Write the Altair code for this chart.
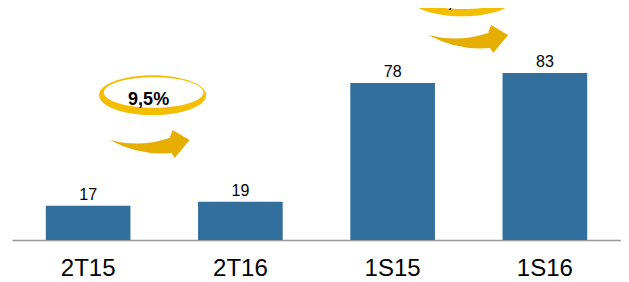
import altair as alt
import pandas as pd

categories = ["2T15", "2T16", "1S15", "1S16"]
values = [17, 19, 78, 83]
growth_labels = ["9,5%", "6,4%"]
growth_from = ["2T15", "1S15"]
arrow_level = [47.7, 99.9]
ring_level = [72.0, 121.0]

bars_df = pd.DataFrame({"cat": categories, "val": values})

BLUE = "#336F9C"

x_enc = alt.X("cat:N", sort=categories,
              scale=alt.Scale(domain=categories, paddingInner=0.444, paddingOuter=0.222),
              axis=alt.Axis(title=None, labelAngle=0, ticks=False, labelFontSize=24,
                            labelFont="Liberation Sans", labelColor="#000000",
                            labelPadding=16, domainColor="#999999", domainWidth=1.5,
                            grid=False))
y_scale = alt.Scale(domain=[0, 115.3], nice=False, zero=True)
y_enc = alt.Y("val:Q", scale=y_scale, axis=None)

base = alt.Chart(bars_df)
bars = base.mark_bar(color=BLUE).encode(x=x_enc, y=y_enc)
labels = base.mark_text(font="Liberation Sans", fontSize=16, color="#000000",
                        baseline="alphabetic", dy=-6).encode(
    x=alt.X("cat:N", sort=categories), y=y_enc, text=alt.Text("val:Q"))

ARROW = ("M -1 -0.1 Q -0.25 0.1 0.5 -0.15 L 0.575 -0.35 L 1 -0.1 L 0.625 0.35 "
         "L 0.55 0.225 Q -0.25 0.3 -1 -0.1 Z")
RING = ("M -1 0 C -1 -0.2043 -0.5523 -0.37 0 -0.37 C 0.5523 -0.37 1 -0.2043 1 0 "
        "C 1 0.2043 0.5523 0.37 0 0.37 C -0.5523 0.37 -1 0.2043 -1 0 Z "
        "M -0.91 -0.05 C -0.91 0.11 -0.4936 0.235 0.02 0.235 "
        "C 0.5336 0.235 0.95 0.11 0.95 -0.05 "
        "C 0.95 -0.2102 0.5336 -0.335 0.02 -0.335 "
        "C -0.4936 -0.335 -0.91 -0.2102 -0.91 -0.05 Z")

layers = [bars, labels]
arrow_dx = [61.5, 75.5]
ring_dx = [64.5, 69.5]
for i in range(2):
    adf = pd.DataFrame({"cat": [growth_from[i]], "lvl": [arrow_level[i]]})
    rdf = pd.DataFrame({"cat": [growth_from[i]], "lvl": [ring_level[i]], "t": [growth_labels[i]]})
    arrow = alt.Chart(adf).mark_point(shape=ARROW, size=6400, filled=True, fill="#E6AE00",
                                      opacity=1, strokeWidth=0, clip=False,
                                      xOffset=arrow_dx[i]).encode(
        x=alt.X("cat:N", sort=categories),
        y=alt.Y("lvl:Q", scale=y_scale))
    ring = alt.Chart(rdf).mark_point(shape=RING, size=11449, filled=True, fill="#F4BE00",
                                     opacity=1, strokeWidth=0, clip=False,
                                     xOffset=ring_dx[i]).encode(
        x=alt.X("cat:N", sort=categories),
        y=alt.Y("lvl:Q", scale=y_scale))
    txt = alt.Chart(rdf).mark_text(font="Liberation Sans", fontSize=18, fontWeight="bold",
                                   color="#000000", clip=False, baseline="middle",
                                   xOffset=ring_dx[i] - 4, yOffset=5).encode(
        x=alt.X("cat:N", sort=categories),
        y=alt.Y("lvl:Q", scale=y_scale),
        text="t:N")
    layers += [arrow, ring, txt]

chart = alt.layer(*layers).properties(
    width=609, height=232,
    autosize=alt.AutoSizeParams(type="none"),
    padding={"left": 4, "top": 0, "right": 0, "bottom": 42},
).configure(background="#FFFFFF").configure_view(stroke=None, strokeWidth=0)

chart.save("out.html", embed_options={"renderer": "svg", "actions": False})
